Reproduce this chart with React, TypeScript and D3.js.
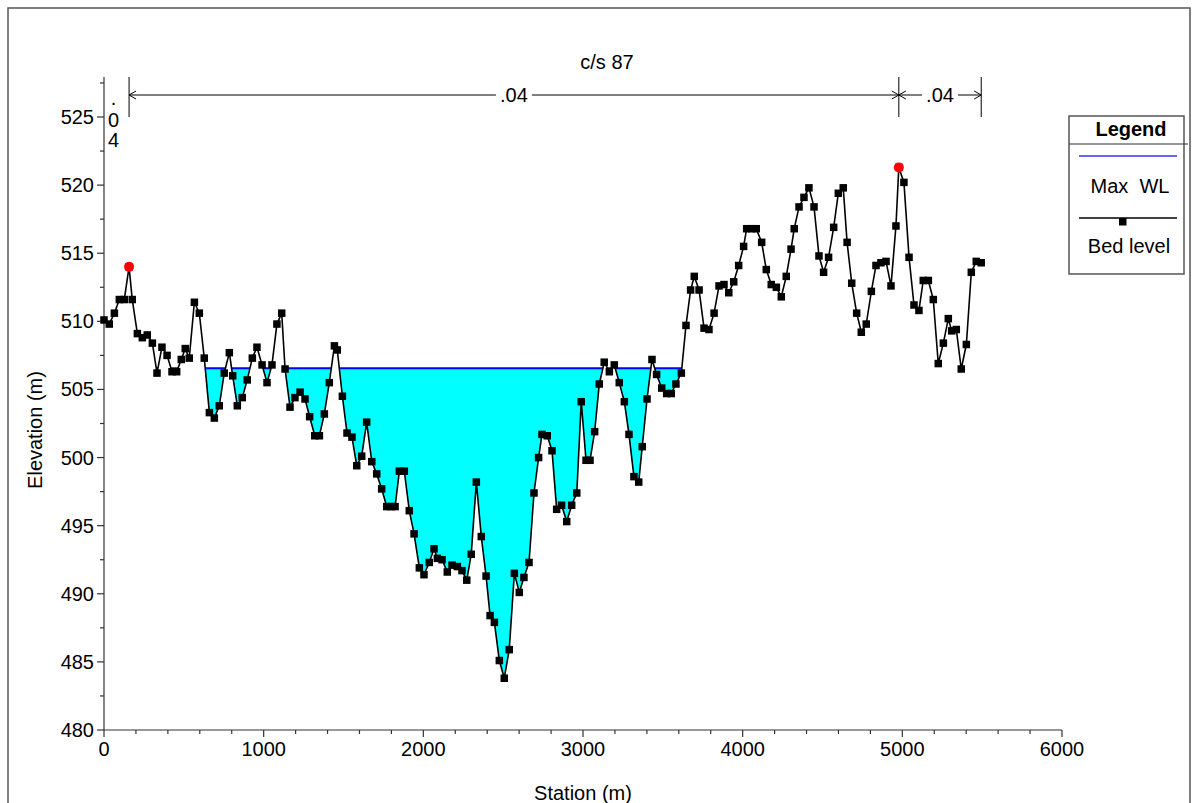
import React from "react";
import * as d3 from "d3";

// Cross-section c/s 87: ground survey (station m, elevation m)
const stations = [
  0, 33, 65, 96, 127, 157, 177, 209, 240, 271, 303, 332, 363, 395, 426, 455, 484, 509, 534, 566,
  597, 628, 660, 691, 722, 753, 785, 806, 835, 866, 897, 929, 958, 990, 1021, 1052, 1083, 1113, 1134, 1165,
  1196, 1228, 1259, 1288, 1320, 1349, 1380, 1411, 1443, 1461, 1493, 1522, 1553, 1583, 1614, 1645, 1677, 1708, 1739, 1771,
  1798, 1823, 1850, 1881, 1912, 1942, 1975, 2004, 2037, 2067, 2088, 2117, 2150, 2180, 2213, 2242, 2272, 2300, 2332, 2363,
  2393, 2418, 2445, 2476, 2507, 2538, 2570, 2601, 2630, 2662, 2693, 2722, 2743, 2776, 2806, 2835, 2866, 2898, 2929, 2961,
  2989, 3019, 3044, 3073, 3102, 3133, 3165, 3196, 3227, 3259, 3288, 3319, 3349, 3371, 3401, 3432, 3461, 3493, 3524, 3553,
  3582, 3616, 3645, 3674, 3697, 3727, 3758, 3789, 3821, 3852, 3883, 3913, 3944, 3975, 4006, 4025, 4057, 4085, 4119, 4148,
  4179, 4211, 4242, 4273, 4303, 4323, 4353, 4384, 4415, 4447, 4478, 4507, 4538, 4570, 4599, 4630, 4654, 4683, 4714, 4743,
  4774, 4806, 4835, 4866, 4898, 4929, 4960, 4978, 5010, 5042, 5073, 5104, 5131, 5163, 5194, 5225, 5257, 5288, 5309, 5338,
  5369, 5401, 5432, 5463, 5494,
];
const elevations = [
  510.1, 509.8, 510.6, 511.6, 511.6, 514.0, 511.6, 509.1, 508.8, 509.0, 508.4, 506.2, 508.1, 507.5, 506.3, 506.3, 507.2, 508.0, 507.3, 511.4,
  510.6, 507.3, 503.3, 502.9, 503.8, 506.2, 507.7, 506.0, 503.8, 504.4, 505.7, 507.3, 508.1, 506.8, 505.5, 506.8, 509.8, 510.6, 506.5, 503.7,
  504.4, 504.8, 504.3, 503.0, 501.6, 501.6, 503.2, 505.5, 508.2, 507.9, 504.5, 501.8, 501.5, 499.4, 500.1, 502.6, 499.7, 498.8, 497.7, 496.4,
  496.4, 496.4, 499.0, 499.0, 496.1, 494.4, 491.9, 491.4, 492.3, 493.3, 492.6, 492.5, 491.6, 492.1, 492.0, 491.7, 491.0, 492.9, 498.2, 494.2,
  491.3, 488.4, 487.9, 485.1, 483.8, 485.9, 491.5, 490.1, 491.2, 492.3, 497.4, 500.0, 501.7, 501.6, 500.5, 496.2, 496.5, 495.3, 496.5, 497.4,
  504.1, 499.8, 499.8, 501.9, 505.4, 507.0, 506.3, 506.8, 505.5, 504.1, 501.7, 498.6, 498.2, 500.8, 504.3, 507.2, 506.1, 505.1, 504.7, 504.7,
  505.4, 506.2, 509.7, 512.3, 513.3, 512.3, 509.5, 509.4, 510.6, 512.6, 512.7, 512.1, 512.9, 514.1, 515.5, 516.8, 516.8, 516.8, 515.8, 513.8,
  512.7, 512.5, 511.8, 513.3, 515.3, 516.8, 518.4, 519.1, 519.8, 518.4, 514.8, 513.6, 514.7, 516.9, 519.4, 519.8, 515.8, 512.8, 510.6, 509.2,
  509.8, 512.2, 514.1, 514.3, 514.4, 512.6, 517.0, 521.3, 520.2, 514.7, 511.2, 510.8, 513.0, 513.0, 511.6, 506.9, 508.4, 510.2, 509.3, 509.4,
  506.5, 508.3, 513.6, 514.4, 514.3,
];

// Maximum water level (m)
const maxWL = 506.55;

// Bank stations (red markers)
const bankStations = [157, 4978];

// Manning's n regions: boundaries and values
const nBoundaries = [0, 157, 4978, 5494];
const nValues = [".04", ".04", ".04"];

const sectionTitle = "c/s 87";
const xTicksMajor = [0, 1000, 2000, 3000, 4000, 5000, 6000];
const yTicksMajor = [480, 485, 490, 495, 500, 505, 510, 515, 520, 525];

const FONT = "'Liberation Sans', Arial, Helvetica, sans-serif";

type P = { s: number; z: number };

export default function App() {
  const left = 104;
  const right = 1062;
  const bottom = 730;
  const plotTop = 77;

  const x = d3.scaleLinear().domain([0, 6000]).range([left, right]);
  const y = d3.scaleLinear().domain([480, 525]).range([bottom, 117]);

  const bed: P[] = stations.map((s, i) => ({ s, z: elevations[i] }));

  // Insert the points where the ground crosses the water level
  const wet: P[] = [];
  for (let i = 0; i < bed.length; i++) {
    const a = bed[i];
    wet.push(a);
    if (i < bed.length - 1) {
      const b = bed[i + 1];
      if ((a.z - maxWL) * (b.z - maxWL) < 0) {
        const t = (maxWL - a.z) / (b.z - a.z);
        wet.push({ s: a.s + t * (b.s - a.s), z: maxWL });
      }
    }
  }

  const waterArea = d3
    .area<P>()
    .defined((d) => d.z <= maxWL + 1e-9)
    .x((d) => x(d.s))
    .y0(() => y(maxWL))
    .y1((d) => y(Math.min(d.z, maxWL)))(wet) || "";

  const wlLine = d3
    .line<P>()
    .defined((d) => d.z <= maxWL + 1e-9)
    .x((d) => x(d.s))
    .y(() => y(maxWL))(wet) || "";

  const bedLine = d3
    .line<P>()
    .x((d) => x(d.s))
    .y((d) => y(d.z))(bed) || "";

  const xMinor = d3.range(0, 6001, 200).filter((v) => v % 1000 !== 0);
  const yMinor = d3.range(482.5, 528, 5);

  const arrowY = 95;
  const barTop = 77;
  const barBottom = 117;

  const mk = 7.5;

  return (
    <svg
      width={1193}
      height={803}
      style={{ position: "absolute", left: 0, top: 0, background: "#fff" }}
      fontFamily={FONT}
    >
      {/* outer frame */}
      <rect x={8} y={8} width={1182} height={830} fill="none" stroke="#555" strokeWidth={1.5} />

      {/* water */}
      <path d={waterArea} fill="#00ffff" stroke="none" />
      <path d={wlLine} fill="none" stroke="#0000ff" strokeWidth={2} />

      {/* axes */}
      <g stroke="#333" strokeWidth={1.2}>
        <line x1={left} y1={bottom} x2={right} y2={bottom} />
        <line x1={left} y1={bottom} x2={left} y2={plotTop} />
        {xTicksMajor.map((v) => (
          <line key={"xm" + v} x1={x(v)} x2={x(v)} y1={bottom} y2={bottom + 7} />
        ))}
        {xMinor.map((v) => (
          <line key={"xn" + v} x1={x(v)} x2={x(v)} y1={bottom} y2={bottom + 4} />
        ))}
        {yTicksMajor.map((v) => (
          <line key={"ym" + v} x1={left - 7} x2={left} y1={y(v)} y2={y(v)} />
        ))}
        {yMinor.map((v) => (
          <line key={"yn" + v} x1={left - 4} x2={left} y1={y(v)} y2={y(v)} />
        ))}
      </g>
      <g fontSize={20} fill="#000">
        {xTicksMajor.map((v) => (
          <text key={"xl" + v} x={x(v)} y={bottom + 26} textAnchor="middle">
            {v}
          </text>
        ))}
        {yTicksMajor.map((v) => (
          <text key={"yl" + v} x={left - 10} y={y(v) + 7} textAnchor="end">
            {v}
          </text>
        ))}
      </g>
      <text x={(left + right) / 2} y={800} fontSize={20} textAnchor="middle">
        Station (m)
      </text>
      <text
        transform={`translate(42, 430) rotate(-90)`}
        fontSize={20}
        textAnchor="middle"
      >
        Elevation (m)
      </text>

      {/* ground profile */}
      <path d={bedLine} fill="none" stroke="#000" strokeWidth={1.6} />
      {bed.map((d, i) => (
        <rect key={"b" + i} x={x(d.s) - mk / 2} y={y(d.z) - mk / 2} width={mk} height={mk} fill="#000" />
      ))}
      {bankStations.map((s) => {
        const p = bed.find((d) => d.s === s)!;
        return <circle key={"bank" + s} cx={x(p.s)} cy={y(p.z)} r={5} fill="#ff0000" />;
      })}

      {/* section title */}
      <text x={(left + right) / 2 + 24} y={69} fontSize={20} textAnchor="middle">
        {sectionTitle}
      </text>

      {/* Manning's n regions */}
      <g stroke="#000" strokeWidth={1}>
        {nBoundaries.slice(1).map((s) => (
          <line key={"nb" + s} x1={x(s)} x2={x(s)} y1={barTop} y2={barBottom} />
        ))}
      </g>
      {nValues.map((n, i) => {
        const a = x(nBoundaries[i]);
        const b = x(nBoundaries[i + 1]);
        const mid = (a + b) / 2;
        if (b - a < 40) {
          // too narrow: stack the characters vertically
          const chars = n.split("");
          return (
            <g key={"n" + i} fontSize={20} textAnchor="middle">
              <text x={mid - 3} y={105}>{chars[0]}</text>
              <text x={mid - 3} y={127}>{chars[1]}</text>
              <text x={mid - 3} y={147}>{chars[2]}</text>
            </g>
          );
        }
        return (
          <g key={"n" + i}>
            <line x1={a} x2={b} y1={arrowY} y2={arrowY} stroke="#000" strokeWidth={1} />
            <path
              d={`M${a + 7},${arrowY - 4}L${a},${arrowY}L${a + 7},${arrowY + 4}M${b - 7},${arrowY - 4}L${b},${arrowY}L${b - 7},${arrowY + 4}`}
              fill="none"
              stroke="#000"
              strokeWidth={1}
            />
            <rect x={mid - 18} y={arrowY - 10} width={36} height={20} fill="#fff" />
            <text x={mid} y={arrowY + 7} fontSize={20} textAnchor="middle">
              {n}
            </text>
          </g>
        );
      })}

      {/* legend */}
      <g>
        <rect x={1069} y={116} width={115} height={158} fill="#fff" stroke="#555" strokeWidth={1.5} />
        <line x1={1069} x2={1188} y1={144} y2={144} stroke="#333" strokeWidth={1.2} />
        <text x={1131} y={136} fontSize={20} fontWeight="bold" textAnchor="middle">
          Legend
        </text>
        <line x1={1079} x2={1177} y1={156} y2={156} stroke="#3333ff" strokeWidth={1.5} />
        <text x={1130} y={193} fontSize={20} textAnchor="middle" xmlSpace="preserve">
          Max  WL
        </text>
        <line x1={1079} x2={1177} y1={218} y2={218} stroke="#000" strokeWidth={1.5} />
        <rect x={1119} y={218} width={7.5} height={7.5} fill="#000" />
        <text x={1129} y={253} fontSize={20} textAnchor="middle">
          Bed level
        </text>
      </g>
    </svg>
  );
}
